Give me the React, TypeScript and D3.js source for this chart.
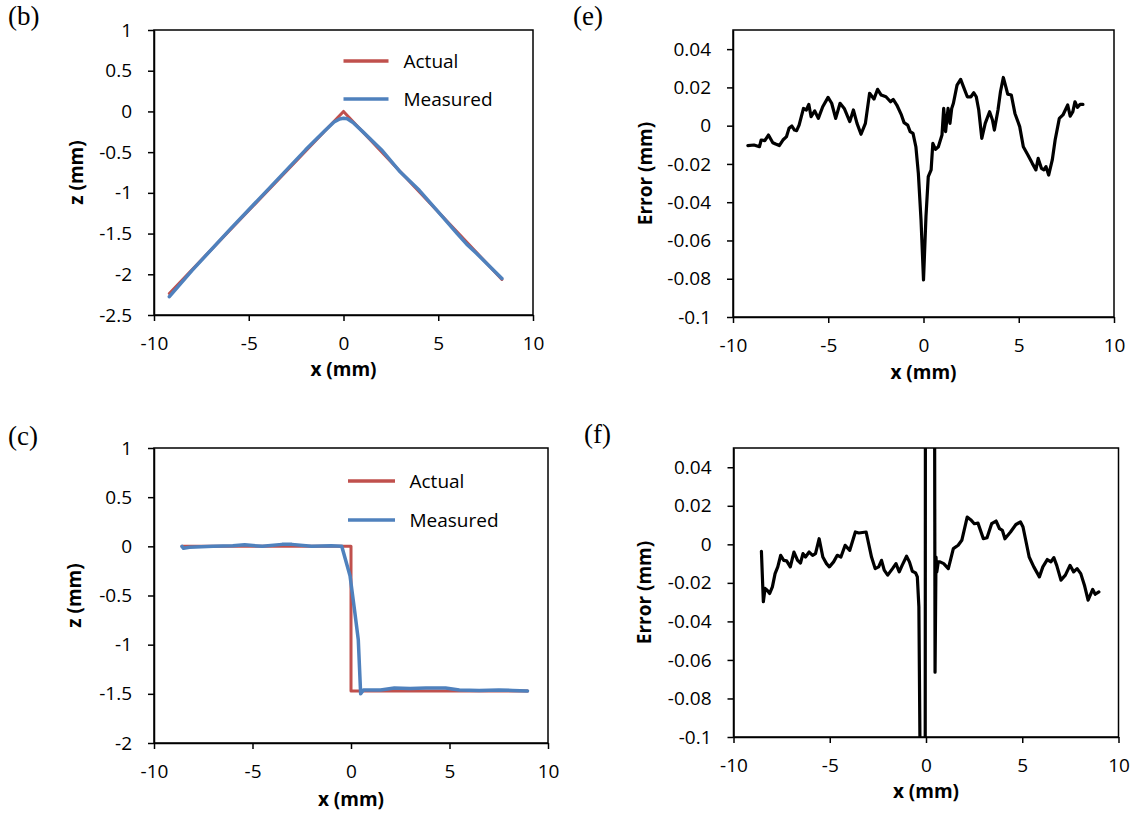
import React, { useEffect, useRef } from "react";
import * as d3 from "d3";

// tick values
const xTicks = [-10, -5, 0, 5, 10];
const zTicksB = [1, 0.5, 0, -0.5, -1, -1.5, -2, -2.5];
const zTicksC = [1, 0.5, 0, -0.5, -1, -1.5, -2];
const errTicks = [0.04, 0.02, 0, -0.02, -0.04, -0.06, -0.08, -0.1];

// (b) triangle profile, [x, z]
const actualB = [[-9.19, -2.235], [0, 0], [8.36, -2.063]];
const measuredB = [
  [-9.19, -2.275], [-8, -1.955], [-6, -1.451], [-4, -0.963], [-2, -0.472], [-1, -0.241],
  [-0.5, -0.13], [-0.2, -0.092], [0, -0.085], [0.2, -0.09], [0.5, -0.135], [1, -0.245],
  [2, -0.47], [3, -0.745], [4, -0.969], [5, -1.234], [6, -1.5], [6.5, -1.63], [7, -1.738], [8.36, -2.053],
];

// (e) error of (b), [x, error]
const errorE = [
  [-9.22, -0.0104], [-8.9, -0.0101], [-8.61, -0.011], [-8.52, -0.0075], [-8.33, -0.0078], [-8.14, -0.0049],
  [-7.91, -0.0089], [-7.76, -0.0096], [-7.57, -0.0104], [-7.38, -0.0075], [-7.19, -0.0057], [-7.06, -0.0014],
  [-6.91, -0.0002], [-6.77, -0.0023], [-6.66, -0.0026], [-6.53, 0.0003], [-6.3, 0.009], [-6.15, 0.0082],
  [-6.02, 0.0111], [-5.9, 0.0047], [-5.71, 0.0077], [-5.52, 0.0038], [-5.29, 0.0099], [-5.01, 0.0148],
  [-4.82, 0.0117], [-4.61, 0.0038], [-4.38, 0.0117], [-4.16, 0.009], [-3.87, 0.0021], [-3.68, 0.0082],
  [-3.49, 0.0012], [-3.28, -0.0045], [-3.05, 0.0012], [-2.83, 0.0169], [-2.6, 0.0139], [-2.41, 0.019],
  [-2.22, 0.016], [-1.97, 0.0151], [-1.73, 0.0125], [-1.59, 0.0137], [-1.4, 0.0108], [-1.16, 0.0056],
  [-1.02, 0.0016], [-0.83, 0.0003], [-0.7, -0.0031], [-0.55, -0.004], [-0.4, -0.011], [-0.27, -0.0249],
  [-0.13, -0.0492], [0, -0.0806], [0.13, -0.0475], [0.25, -0.0266], [0.4, -0.0231], [0.49, -0.0092],
  [0.63, -0.0124], [0.78, -0.011], [0.97, -0.0049], [1.06, 0.009], [1.16, -0.0031], [1.29, 0.009],
  [1.39, 0.0012], [1.48, 0.009], [1.57, 0.0117], [1.76, 0.0212], [1.95, 0.0242], [2.11, 0.02],
  [2.3, 0.0151], [2.49, 0.0151], [2.64, 0.0172], [2.77, 0.0151], [2.9, 0.0082], [3.06, -0.0066],
  [3.24, 0.0012], [3.47, 0.0073], [3.62, 0.003], [3.72, -0.0023], [3.91, 0.0082], [4.04, 0.0177],
  [4.19, 0.0252], [4.33, 0.02], [4.42, 0.0165], [4.61, 0.016], [4.8, 0.0064], [5.05, -0.0005],
  [5.24, -0.011], [5.48, -0.0153], [5.71, -0.0197], [5.9, -0.0231], [6.02, -0.0171], [6.19, -0.0223],
  [6.32, -0.0231], [6.43, -0.0214], [6.57, -0.0258], [6.76, -0.0179], [6.91, -0.0075], [7.13, 0.0038],
  [7.32, 0.0056], [7.57, 0.0108], [7.7, 0.005], [7.84, 0.0073], [7.95, 0.0125], [8.08, 0.0096],
  [8.22, 0.0111], [8.37, 0.0111],
];

// (c) step profile, [x, z]
const actualC = [[-8.58, 0], [0, 0], [0, -1.47], [8.96, -1.47]];
const measuredC = [
  [-8.58, 0.0], [-8.5, -0.02], [-8.2, -0.01], [-7, 0.0], [-6, 0.005], [-5.4, 0.015], [-4.5, 0.0],
  [-3.5, 0.02], [-3, 0.02], [-2, 0.0], [-1, 0.005], [-0.47, 0.0], [-0.05, -0.3], [0.2, -0.68],
  [0.37, -0.95], [0.49, -1.5], [0.63, -1.46], [1.5, -1.46], [2.2, -1.44], [3, -1.445], [3.8, -1.44],
  [4.8, -1.44], [5.5, -1.46], [6.5, -1.465], [7.5, -1.46], [8.2, -1.465], [8.96, -1.47],
];

// (f) error of (c), [x, error]
const errorF = [
  [-8.55, -0.0036], [-8.45, -0.0298], [-8.36, -0.0229], [-8.25, -0.0238], [-8.12, -0.0255], [-7.98, -0.0221],
  [-7.84, -0.0152], [-7.7, -0.0117], [-7.55, -0.0057], [-7.39, -0.0083], [-7.24, -0.0086], [-7.05, -0.0117],
  [-6.86, -0.004], [-6.67, -0.0083], [-6.52, -0.0097], [-6.39, -0.0048], [-6.26, -0.0066], [-6.07, -0.004],
  [-5.89, -0.0057], [-5.74, -0.0048], [-5.55, 0.0029], [-5.36, -0.0066], [-5.17, -0.01], [-5.02, -0.0117],
  [-4.8, -0.0091], [-4.61, -0.0057], [-4.42, -0.0066], [-4.2, -0.0005], [-3.96, -0.0031], [-3.67, 0.0064],
  [-3.49, 0.0059], [-3.11, 0.0064], [-2.83, -0.0066], [-2.64, -0.0126], [-2.46, -0.0117], [-2.31, -0.0083],
  [-2.17, -0.0134], [-1.99, -0.016], [-1.74, -0.0126], [-1.56, -0.01], [-1.39, -0.0143], [-1.24, -0.0109],
  [-1.01, -0.0062], [-0.86, -0.0091], [-0.71, -0.014], [-0.54, -0.0148], [-0.45, -0.0169], [-0.37, -0.0324],
  [-0.3, -0.12], [-0.05, -0.3], [0.02, 1.1], [0.2, 0.79], [0.37, 0.52], [0.47, -0.0664], [0.52, -0.0066],
  [0.56, -0.0143], [0.64, -0.0091], [0.73, -0.0091], [0.92, -0.01], [1.16, -0.0126], [1.42, -0.0022],
  [1.67, -0.0005], [1.86, 0.0021], [2.14, 0.0141], [2.32, 0.0128], [2.51, 0.0107], [2.7, 0.011],
  [2.98, 0.0029], [3.17, 0.0034], [3.41, 0.0107], [3.64, 0.0121], [3.82, 0.0081], [3.97, 0.0072],
  [4.1, 0.0029], [4.39, 0.0064], [4.67, 0.0103], [4.91, 0.0116], [5.04, 0.009], [5.36, -0.0066],
  [5.6, -0.0117], [5.89, -0.0169], [6.07, -0.0117], [6.3, -0.0079], [6.49, -0.0091], [6.64, -0.0069],
  [6.79, -0.0109], [7.01, -0.0186], [7.24, -0.016], [7.48, -0.0109], [7.67, -0.0143], [7.85, -0.0126],
  [8.04, -0.0152], [8.23, -0.0212], [8.42, -0.029], [8.66, -0.0234], [8.79, -0.0259], [8.98, -0.0247],
];

const RED = "#C0504D";
const BLUE = "#4F81BD";
const FONT = "'Open Sans', sans-serif";

const panels = [
  {
    id: "b", label: "(b)", lx: 8, ly: 25,
    box: { l: 154, r: 533, t: 30, b: 315 },
    yDomain: [-2.5, 1], yTicks: zTicksB, yTitle: "z (mm)", yTitleX: 83, xTitleDy: 61,
    series: [
      { data: actualB, color: RED, width: 3, name: "Actual" },
      { data: measuredB, color: BLUE, width: 3.5, name: "Measured" },
    ],
    legend: { x: 343.5, y: 61, len: 45, tx: 403.5, gap: 38 },
  },
  {
    id: "e", label: "(e)", lx: 573, ly: 25,
    box: { l: 733, r: 1114, t: 30, b: 317 },
    yDomain: [-0.1, 0.05], yTicks: errTicks, yTitle: "Error (mm)", yTitleX: 652, xTitleDy: 62,
    series: [{ data: errorE, color: "#000", width: 3.2 }],
  },
  {
    id: "c", label: "(c)", lx: 8, ly: 445,
    box: { l: 154, r: 548, t: 448, b: 743 },
    yDomain: [-2, 1], yTicks: zTicksC, yTitle: "z (mm)", yTitleX: 81, xTitleDy: 63,
    series: [
      { data: actualC, color: RED, width: 3, name: "Actual" },
      { data: measuredC, color: BLUE, width: 3.5, name: "Measured" },
    ],
    legend: { x: 348, y: 481, len: 47, tx: 409.5, gap: 39 },
  },
  {
    id: "f", label: "(f)", lx: 584, ly: 443,
    box: { l: 733.5, r: 1118.5, t: 448, b: 737 },
    yDomain: [-0.1, 0.05], yTicks: errTicks, yTitle: "Error (mm)", yTitleX: 651, xTitleDy: 61,
    series: [{ data: errorF, color: "#000", width: 3.2 }],
  },
];

export default function App() {
  const ref = useRef<SVGSVGElement>(null);

  useEffect(() => {
    const svg = d3.select(ref.current);
    svg.selectAll("*").remove();

    svg.append("rect").attr("width", 1136).attr("height", 815).style("fill", "#fff");

    panels.forEach((p) => {
      const { l, r, t, b } = p.box;
      const x = d3.scaleLinear().domain([-10, 10]).range([l, r]);
      const y = d3.scaleLinear().domain(p.yDomain).range([b, t]);
      const g = svg.append("g");

      g.append("clipPath").attr("id", "clip-" + p.id)
        .append("rect").attr("x", l).attr("y", t).attr("width", r - l).attr("height", b - t);

      // plot frame
      g.append("rect")
        .attr("x", l).attr("y", t).attr("width", r - l).attr("height", b - t)
        .style("fill", "none").style("stroke", "#000").style("stroke-width", 1.5);

      const yAxis = g.append("g").attr("transform", `translate(${l},0)`)
        .call(d3.axisLeft(y).tickValues(p.yTicks).tickSizeInner(6).tickSizeOuter(0)
          .tickPadding(16).tickFormat((d) => String(d)));
      const xAxis = g.append("g").attr("transform", `translate(0,${b})`)
        .call(d3.axisBottom(x).tickValues(xTicks).tickSizeInner(6).tickSizeOuter(0)
          .tickPadding(16).tickFormat((d) => String(d)));

      [yAxis, xAxis].forEach((a) => {
        a.selectAll("path, line").style("stroke", "#000").style("stroke-width", 1.5);
        a.selectAll("text").style("font-family", FONT).style("font-size", "19px").style("fill", "#000");
      });

      const line = d3.line().x((d) => x(d[0])).y((d) => y(d[1]));
      p.series.forEach((s) => {
        g.append("path")
          .attr("d", line(s.data as [number, number][]))
          .attr("clip-path", `url(#clip-${p.id})`)
          .style("fill", "none").style("stroke", s.color).style("stroke-width", s.width)
          .style("stroke-linejoin", "round").style("stroke-linecap", "round");
      });

      if (p.legend) {
        const lg = p.legend;
        p.series.forEach((s, i) => {
          const yy = lg.y + i * lg.gap;
          g.append("line")
            .attr("x1", lg.x).attr("x2", lg.x + lg.len).attr("y1", yy).attr("y2", yy)
            .style("stroke", s.color).style("stroke-width", 3.5);
          g.append("text")
            .attr("x", lg.tx).attr("y", yy + 7)
            .style("font-family", FONT).style("font-size", "19px").text(s.name);
        });
      }

      // axis titles
      g.append("text")
        .attr("x", (l + r) / 2).attr("y", b + p.xTitleDy)
        .attr("text-anchor", "middle")
        .style("font-family", FONT).style("font-size", "19px").style("font-weight", "bold")
        .text("x (mm)");
      g.append("text")
        .attr("transform", `translate(${p.yTitleX},${(t + b) / 2}) rotate(-90)`)
        .attr("text-anchor", "middle")
        .style("font-family", FONT).style("font-size", "19px").style("font-weight", "bold")
        .text(p.yTitle);

      // panel letter
      g.append("text")
        .attr("x", p.lx).attr("y", p.ly)
        .style("font-family", "'Liberation Serif', 'Times New Roman', serif").style("font-size", "27px")
        .text(p.label);
    });
  }, []);

  return (
    <svg ref={ref} width={1136} height={815}
      style={{ position: "absolute", left: 0, top: 0 }}></svg>
  );
}
